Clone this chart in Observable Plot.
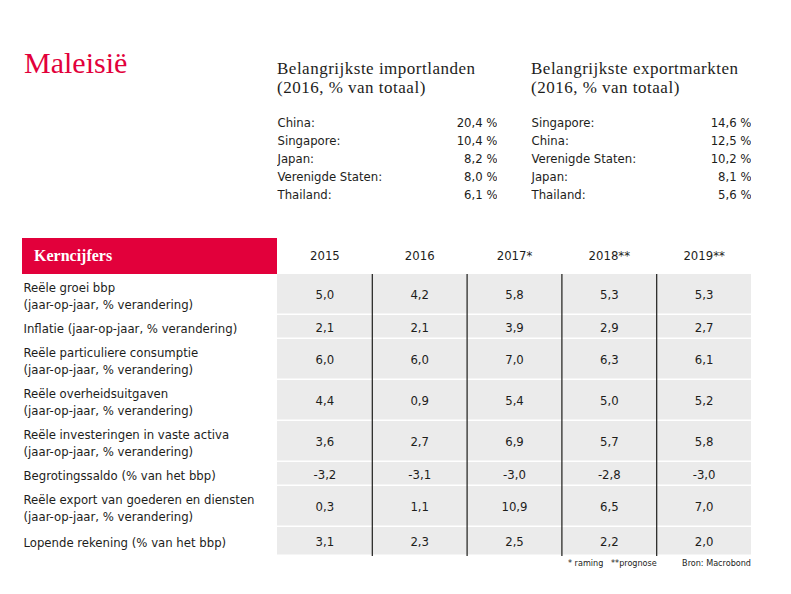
<!DOCTYPE html>
<html><head><meta charset="utf-8">
<script src="https://cdn.jsdelivr.net/npm/d3@7"></script>
<script src="https://cdn.jsdelivr.net/npm/@observablehq/plot@0.6"></script>
<style>
body{margin:0;background:#fff;}
#page{position:relative;width:791px;height:594px;overflow:hidden;color:#1d1d1b;font-family:"DejaVu Sans Condensed","Liberation Sans",sans-serif;}
.abs{position:absolute;}
.serif{font-family:"Liberation Serif","DejaVu Serif",serif;}
#title{left:24px;top:48px;font-size:30px;line-height:30px;color:#e2003b;}
.head{font-size:17px;letter-spacing:0.5px;line-height:18px;height:18px;white-space:nowrap;}
#kern{left:22px;top:238px;width:243px;height:36px;padding-left:12px;background:#e2003b;color:#fff;font-weight:bold;font-size:16px;line-height:36px;}
.foot{top:556px;height:14px;line-height:14px;font-size:9px;white-space:pre;}
</style></head>
<body><div id="page"></div>
<script>
// ---------- data ----------
const title = "Maleisië";
const importHeading = ["Belangrijkste importlanden", "(2016, % van totaal)"];
const exportHeading = ["Belangrijkste exportmarkten", "(2016, % van totaal)"];
const importCountries = ["China", "Singapore", "Japan", "Verenigde Staten", "Thailand"];
const importShares = [20.4, 10.4, 8.2, 8.0, 6.1];
const exportCountries = ["Singapore", "China", "Verenigde Staten", "Japan", "Thailand"];
const exportShares = [14.6, 12.5, 10.2, 8.1, 5.6];
const tableTitle = "Kerncijfers";
const years = ["2015", "2016", "2017*", "2018**", "2019**"];
const indicators = [
  "Reële groei bbp\n(jaar-op-jaar, % verandering)",
  "Inflatie (jaar-op-jaar, % verandering)",
  "Reële particuliere consumptie\n(jaar-op-jaar, % verandering)",
  "Reële overheidsuitgaven\n(jaar-op-jaar, % verandering)",
  "Reële investeringen in vaste activa\n(jaar-op-jaar, % verandering)",
  "Begrotingssaldo (% van het bbp)",
  "Reële export van goederen en diensten\n(jaar-op-jaar, % verandering)",
  "Lopende rekening (% van het bbp)"
];
const v2015 = [5.0, 2.1, 6.0, 4.4, 3.6, -3.2, 0.3, 3.1];
const v2016 = [4.2, 2.1, 6.0, 0.9, 2.7, -3.1, 1.1, 2.3];
const v2017 = [5.8, 3.9, 7.0, 5.4, 6.9, -3.0, 10.9, 2.5];
const v2018 = [5.3, 2.9, 6.3, 5.0, 5.7, -2.8, 6.5, 2.2];
const v2019 = [5.3, 2.7, 6.1, 5.2, 5.8, -3.0, 7.0, 2.0];
const footnote = "* raming   **prognose";
const source = "Bron: Macrobond";

// ---------- helpers ----------
const fmt = v => v.toFixed(1).replace(".", ",");
const page = document.getElementById("page");
function addDiv(id, cls, html, style) {
  const d = document.createElement("div");
  if (id) d.id = id;
  d.className = "abs " + (cls || "");
  d.textContent = html;
  if (style) Object.assign(d.style, style);
  page.appendChild(d);
  return d;
}
function place(node, left, top) {
  node.style.position = "absolute";
  node.style.left = left + "px";
  node.style.top = top + "px";
  page.appendChild(node);
}
const textColor = "#1d1d1b";
const sans = `"DejaVu Sans Condensed","Liberation Sans",sans-serif`;

// ---------- title and headings ----------
addDiv("title", "serif", title);
importHeading.forEach((t, i) => addDiv(null, "serif head", t, {left: "277px", top: (60 + 19 * i) + "px"}));
exportHeading.forEach((t, i) => addDiv(null, "serif head", t, {left: "531px", top: (60 + 19 * i) + "px"}));
addDiv("kern", "serif", tableTitle);

// ---------- trade lists ----------
function listPlot(countries, shares) {
  const data = countries.map((c, i) => ({country: c, share: shares[i]}));
  return Plot.plot({
    width: 220, height: 92,
    margin: 0,
    style: {fontFamily: sans, fontSize: "13px", color: textColor, background: "transparent"},
    x: {axis: null},
    y: {type: "band", domain: countries, padding: 0, axis: null},
    marks: [
      Plot.text(data, {y: "country", text: d => d.country + ":", frameAnchor: "left", textAnchor: "start", fill: textColor}),
      Plot.text(data, {y: "country", text: d => fmt(d.share) + " %", frameAnchor: "right", textAnchor: "end", fill: textColor})
    ]
  });
}
place(listPlot(importCountries, importShares), 277, 112);
place(listPlot(exportCountries, exportShares), 531, 112);

// ---------- key figures table ----------
const series = [v2015, v2016, v2017, v2018, v2019];
const lineCount = indicators.map(s => s.split("\n").length);
const rowUnits = lineCount.map(n => 7 + 17 * n);
rowUnits[rowUnits.length - 1] += 5; // bottom padding of the table
const rows = [];
let acc = 0;
indicators.forEach((label, i) => {
  rows.push({label, top: acc, bottom: acc + rowUnits[i], mid: acc + rowUnits[i] / 2});
  acc += rowUnits[i];
});
const total = acc;
const cells = [];
rows.forEach((r, i) => series.forEach((s, j) => cells.push({col: j + 0.5, mid: r.mid, text: fmt(s[i])})));

const tableTop = 238, gridTop = 274, gridBottom = 556, svgH = 340;
const table = Plot.plot({
  width: 791, height: svgH,
  marginLeft: 277, marginRight: 40,
  marginTop: gridTop - tableTop, marginBottom: tableTop + svgH - gridBottom,
  style: {fontFamily: sans, fontSize: "13px", color: textColor, background: "transparent"},
  x: {type: "linear", domain: [0, years.length], axis: null},
  y: {type: "linear", domain: [0, total], reverse: true, axis: null},
  marks: [
    Plot.rect(rows, {x1: 0, x2: years.length, y1: "top", y2: "bottom", fill: "#ebebeb", insetBottom: 1.5}),
    Plot.ruleX(d3.range(1, years.length), {y1: 0, y2: total, stroke: "#1d1d1b", strokeWidth: 1.2}),
    Plot.text(years, {x: (d, i) => i + 0.5, text: d => d, frameAnchor: "top", lineAnchor: "middle", dy: -19, fill: textColor}),
    Plot.text(cells, {x: "col", y: "mid", text: "text", fill: textColor}),
    Plot.text(rows, {y: "mid", text: "label", frameAnchor: "left", textAnchor: "start", dx: -254, lineHeight: 17 / 13, fill: textColor})
  ]
});
place(table, 0, tableTop);

// ---------- footnotes ----------
addDiv(null, "foot", footnote, {left: "568px"});
addDiv(null, "foot", source, {right: "40px"});
</script>
</body></html>
